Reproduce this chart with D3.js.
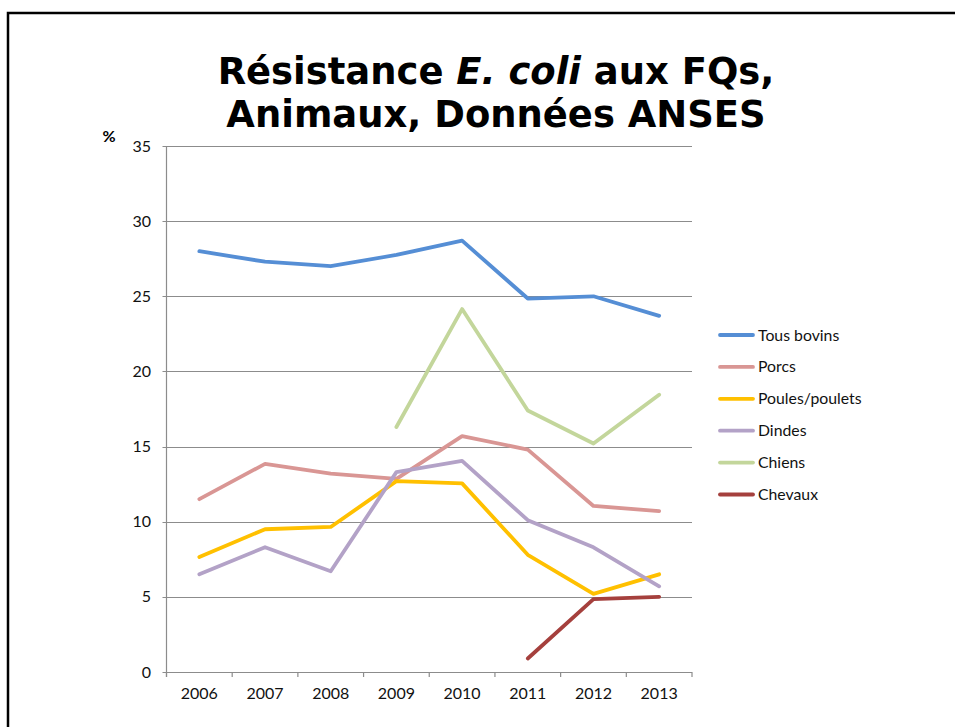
<!DOCTYPE html>
<html>
<head>
<meta charset="utf-8">
<script src="https://cdn.jsdelivr.net/npm/d3@7"></script>
<style>
  body { margin: 0; background: #fff; }
  svg { display: block; }
</style>
</head>
<body>
<div id="chart"></div>
<script>
// Data
const years = ['2006', '2007', '2008', '2009', '2010', '2011', '2012', '2013'];
const yTicks = [0, 5, 10, 15, 20, 25, 30, 35];

const seriesNames = ['Tous bovins', 'Porcs', 'Poules/poulets', 'Dindes', 'Chiens', 'Chevaux'];
const seriesColors = ['#558ED5', '#D99694', '#FFC000', '#B3A2C7', '#C3D69B', '#A5403D'];

const tousBovins = [28.0, 27.3, 27.0, 27.75, 28.7, 24.85, 25.0, 23.7];
const porcs = [11.5, 13.85, 13.2, 12.85, 15.7, 14.8, 11.05, 10.7];
const poules = [7.65, 9.5, 9.65, 12.7, 12.55, 7.8, 5.2, 6.5];
const dindes = [6.5, 8.3, 6.7, 13.3, 14.05, 10.1, 8.3, 5.7];
const chiens = [null, null, null, 16.3, 24.15, 17.4, 15.2, 18.45];
const chevaux = [null, null, null, null, null, 0.9, 4.85, 5.0];

const seriesValues = [tousBovins, porcs, poules, dindes, chiens, chevaux];

const W = 955, H = 727;
const svg = d3.select('#chart')
  .append('svg')
  .attr('width', W)
  .attr('height', H);

// slide frame
svg.append('path')
  .attr('d', 'M8,' + H + ' L8,13 L' + W + ',13')
  .attr('fill', 'none')
  .attr('stroke', '#000')
  .attr('stroke-width', 2.5);

// Title
const title = svg.append('g')
  .attr('font-family', '"DejaVu Sans", Verdana, sans-serif')
  .attr('font-weight', 'bold')
  .attr('fill', '#000');

const t1 = title.append('text')
  .attr('x', 496).attr('y', 84)
  .attr('text-anchor', 'middle');
t1.append('tspan').text('Résistance ');
t1.append('tspan').attr('font-style', 'italic').text('E. coli');
t1.append('tspan').text(' aux FQs,');

const t2 = title.append('text')
  .attr('x', 496).attr('y', 127)
  .attr('text-anchor', 'middle')
  .text('Animaux, Données ANSES');

// fit title size to the width seen in the picture
let fs = 30;
title.attr('font-size', fs);
const w1 = t1.node().getComputedTextLength();
fs = fs * 557 / w1;
title.attr('font-size', fs);

// Plot area
const plotL = 166.5, plotR = 692, plotT = 146, plotB = 672;

const x = d3.scaleBand()
  .domain(years)
  .range([plotL, plotR]);

const y = d3.scaleLinear()
  .domain([0, 35])
  .range([plotB, plotT]);

// gridlines
svg.append('g')
  .selectAll('line')
  .data(yTicks)
  .enter()
  .append('line')
  .attr('x1', plotL - 4)
  .attr('x2', plotR)
  .attr('y1', d => Math.round(y(d)) + 0.5)
  .attr('y2', d => Math.round(y(d)) + 0.5)
  .attr('stroke', '#8c8c8c')
  .attr('stroke-width', 1.2);

// y axis line
svg.append('line')
  .attr('x1', plotL).attr('x2', plotL)
  .attr('y1', plotT).attr('y2', plotB + 5)
  .attr('stroke', '#8c8c8c')
  .attr('stroke-width', 1.2);

// x tick marks at category boundaries
const xb = years.map(d => x(d)).concat([plotR]);
svg.append('g')
  .selectAll('line')
  .data(xb)
  .enter()
  .append('line')
  .attr('x1', d => d).attr('x2', d => d)
  .attr('y1', plotB).attr('y2', plotB + 5)
  .attr('stroke', '#8c8c8c')
  .attr('stroke-width', 1.2);

const labelFont = 'Lato, "Open Sans", sans-serif';

// y tick labels
svg.append('g')
  .selectAll('text')
  .data(yTicks)
  .enter()
  .append('text')
  .attr('x', 151)
  .attr('y', d => y(d))
  .attr('dy', '0.35em')
  .attr('text-anchor', 'end')
  .attr('font-family', labelFont)
  .attr('font-size', 16)
  .attr('fill', '#111')
  .text(d => d);

// x tick labels
svg.append('g')
  .selectAll('text')
  .data(years)
  .enter()
  .append('text')
  .attr('x', d => x(d) + x.bandwidth() / 2)
  .attr('y', 699)
  .attr('text-anchor', 'middle')
  .attr('font-family', labelFont)
  .attr('font-size', 16)
  .attr('fill', '#111')
  .text(d => d);

// % unit
svg.append('text')
  .attr('x', 109)
  .attr('y', 142)
  .attr('text-anchor', 'middle')
  .attr('font-family', labelFont)
  .attr('font-weight', 'bold')
  .attr('font-size', 16)
  .text('%');

// series lines
const line = d3.line()
  .defined(d => d.v !== null)
  .x(d => x(d.year) + x.bandwidth() / 2)
  .y(d => y(d.v));

seriesValues.forEach((vals, i) => {
  svg.append('path')
    .datum(years.map((yr, j) => ({ year: yr, v: vals[j] })))
    .attr('d', line)
    .attr('fill', 'none')
    .attr('stroke', seriesColors[i])
    .attr('stroke-width', 3.8)
    .attr('stroke-linecap', 'round')
    .attr('stroke-linejoin', 'round');
});

// legend
const legend = svg.append('g');
seriesNames.forEach((name, i) => {
  const ly = 335 + i * 31.9;
  legend.append('line')
    .attr('x1', 720).attr('x2', 753)
    .attr('y1', ly).attr('y2', ly)
    .attr('stroke', seriesColors[i])
    .attr('stroke-width', 3.8)
    .attr('stroke-linecap', 'round');
  legend.append('text')
    .attr('x', 758)
    .attr('y', ly)
    .attr('dy', '0.35em')
    .attr('font-family', labelFont)
    .attr('font-size', 15.8)
    .attr('fill', '#111')
    .text(name);
});
</script>
</body>
</html>
